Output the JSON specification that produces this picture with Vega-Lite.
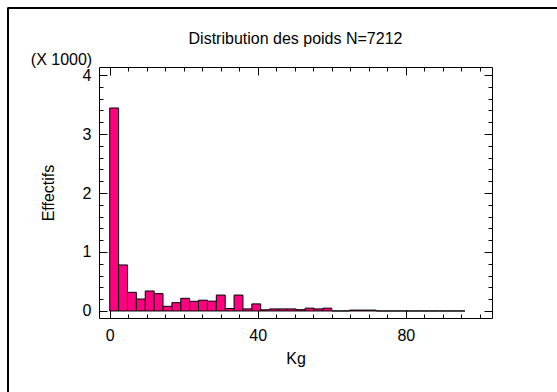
{
  "$schema": "https://vega.github.io/schema/vega-lite/v6.json",
  "width": 393,
  "height": 251,
  "autosize": {"type": "none"},
  "padding": {"left": 99, "top": 67, "right": 65, "bottom": 74},
  "background": "white",
  "config": {
    "view": {"stroke": "black", "strokeWidth": 1},
    "font": "Liberation Sans",
    "axis": {"grid": false, "domain": false, "tickColor": "black", "tickWidth": 1, "labelColor": "black", "titleColor": "black", "labelFontSize": 16, "titleFontSize": 16, "titleFontWeight": "normal", "labelFont": "Liberation Sans", "titleFont": "Liberation Sans", "labelOverlap": false, "labelFlush": false, "labelBound": false}
  },
  "title": {"text": "Distribution des poids N=7212", "fontSize": 16, "fontWeight": "normal", "font": "Liberation Sans", "color": "black", "anchor": "middle", "frame": "group", "baseline": "alphabetic", "offset": -52},
  "data": {"values": [
    {"lo": 0, "hi": 2.4, "n": 3441},
    {"lo": 2.4, "hi": 4.8, "n": 780},
    {"lo": 4.8, "hi": 7.2, "n": 316},
    {"lo": 7.2, "hi": 9.6, "n": 203},
    {"lo": 9.6, "hi": 12, "n": 339},
    {"lo": 12, "hi": 14.4, "n": 294},
    {"lo": 14.4, "hi": 16.8, "n": 79},
    {"lo": 16.8, "hi": 19.2, "n": 141},
    {"lo": 19.2, "hi": 21.6, "n": 215},
    {"lo": 21.6, "hi": 24, "n": 164},
    {"lo": 24, "hi": 26.4, "n": 183},
    {"lo": 26.4, "hi": 28.8, "n": 167},
    {"lo": 28.8, "hi": 31.2, "n": 270},
    {"lo": 31.2, "hi": 33.6, "n": 42},
    {"lo": 33.6, "hi": 36, "n": 270},
    {"lo": 36, "hi": 38.4, "n": 35},
    {"lo": 38.4, "hi": 40.8, "n": 120},
    {"lo": 40.8, "hi": 43.2, "n": 20},
    {"lo": 43.2, "hi": 45.6, "n": 35},
    {"lo": 45.6, "hi": 48, "n": 35},
    {"lo": 48, "hi": 50.4, "n": 35},
    {"lo": 50.4, "hi": 52.8, "n": 22},
    {"lo": 52.8, "hi": 55.2, "n": 48},
    {"lo": 55.2, "hi": 57.6, "n": 35},
    {"lo": 57.6, "hi": 60, "n": 48},
    {"lo": 60, "hi": 62.4, "n": 0},
    {"lo": 62.4, "hi": 64.8, "n": 0},
    {"lo": 64.8, "hi": 67.2, "n": 15},
    {"lo": 67.2, "hi": 69.6, "n": 15},
    {"lo": 69.6, "hi": 72, "n": 15},
    {"lo": 72, "hi": 74.4, "n": 0},
    {"lo": 74.4, "hi": 76.8, "n": 0},
    {"lo": 76.8, "hi": 79.2, "n": 0},
    {"lo": 79.2, "hi": 81.6, "n": 0},
    {"lo": 81.6, "hi": 84, "n": 0},
    {"lo": 84, "hi": 86.4, "n": 0},
    {"lo": 86.4, "hi": 88.8, "n": 0},
    {"lo": 88.8, "hi": 91.2, "n": 0},
    {"lo": 91.2, "hi": 93.6, "n": 0},
    {"lo": 93.6, "hi": 96, "n": 0}
  ]},
  "layer": [
    {
      "mark": {"type": "rect", "fill": "#FF0080", "stroke": "black", "strokeWidth": 1},
      "encoding": {
        "x": {"field": "lo", "type": "quantitative", "scale": {"domain": [-2.9, 103.3], "nice": false, "zero": false},
          "axis": {"orient": "bottom", "values": [0,5,10,15,20,25,30,35,40,45,50,55,60,65,70,75,80,85,90,95,100],
            "labelExpr": "datum.value % 40 === 0 ? format(datum.value, 'd') : ''",
            "tickSize": {"condition": {"test": "datum.value % 40 === 0", "value": -8}, "value": -4},
            "labelPadding": 17, "title": "Kg", "titleX": 196.5, "titleY": 45, "titleAlign": "center", "titleBaseline": "alphabetic"}},
        "x2": {"field": "hi"},
        "y": {"field": "n", "type": "quantitative", "scale": {"domain": [-119, 4136], "nice": false, "zero": false},
          "axis": {"orient": "left", "values": [0,200,400,600,800,1000,1200,1400,1600,1800,2000,2200,2400,2600,2800,3000,3200,3400,3600,3800,4000],
            "labelExpr": "datum.value % 1000 === 0 ? format(datum.value / 1000, 'd') : ''",
            "tickSize": {"condition": {"test": "datum.value % 1000 === 0", "value": -8}, "value": -4},
            "labelPadding": 16, "title": "Effectifs", "titleAngle": -90, "titleX": -46, "titleY": 125.5, "titleAlign": "center", "titleBaseline": "alphabetic"}},
        "y2": {"datum": 0}
      }
    },
    {
      "mark": {"type": "rect", "filled": false, "stroke": "black", "strokeWidth": 1},
      "encoding": {
        "x": {"datum": -27.5, "type": "quantitative",
          "axis": {"orient": "top", "values": [0,5,10,15,20,25,30,35,40,45,50,55,60,65,70,75,80,85,90,95,100], "labels": false,
            "tickSize": {"condition": {"test": "datum.value % 40 === 0", "value": -8}, "value": -4},
            "title": "(X 1000)", "titleAngle": 0, "titleX": -38, "titleY": -3, "titleAlign": "center", "titleBaseline": "alphabetic"}},
        "x2": {"datum": 200},
        "y": {"datum": 5136, "type": "quantitative",
          "axis": {"orient": "right", "values": [0,200,400,600,800,1000,1200,1400,1600,1800,2000,2200,2400,2600,2800,3000,3200,3400,3600,3800,4000], "labels": false,
            "tickSize": {"condition": {"test": "datum.value % 1000 === 0", "value": -8}, "value": -4},
            "title": null}},
        "y2": {"datum": -3000}
      }
    }
  ],
  "resolve": {"axis": {"x": "independent", "y": "independent"}}
}
